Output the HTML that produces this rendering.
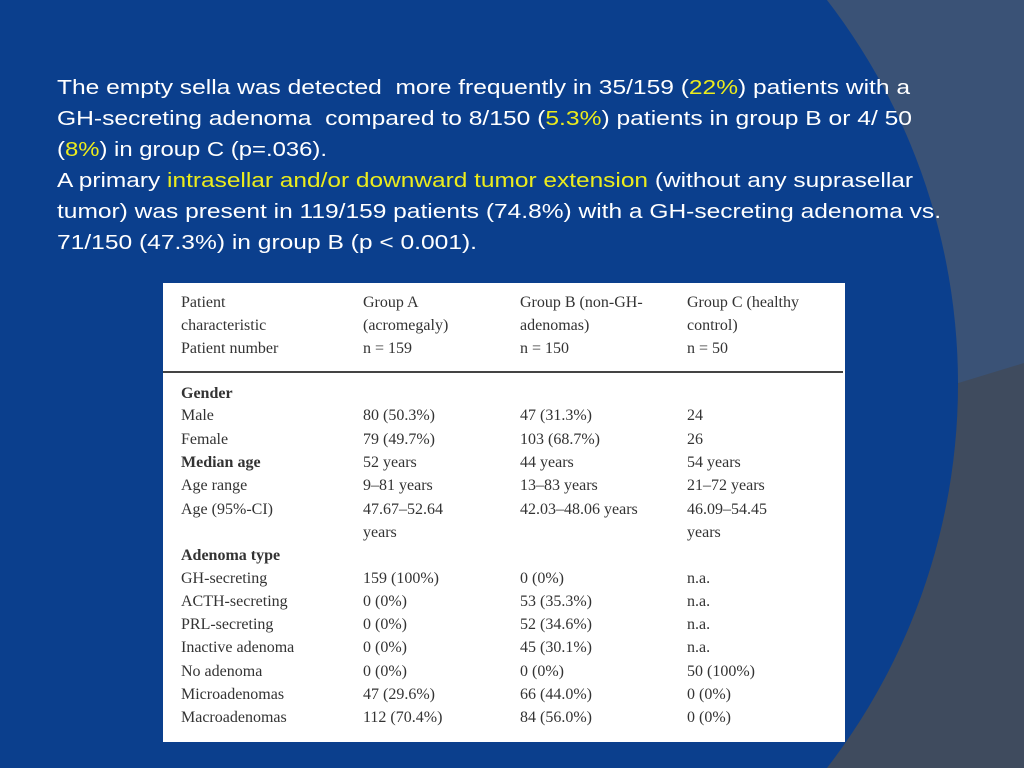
<!DOCTYPE html>
<html><head><meta charset="utf-8"><style>
body{margin:0;width:1024px;height:768px;overflow:hidden;position:relative;background:#3a5276;font-family:"Liberation Sans",sans-serif}
#bg{position:absolute;left:0;top:0;display:block}
.txt{position:absolute;left:57px;top:73px;color:#fff;font-size:20px;line-height:31px}
.ln{white-space:nowrap;transform-origin:0 0;width:max-content}
.y{color:#ecec1c}
.tbl{position:absolute;left:163px;top:283px;width:682px;height:459px;background:#fff;font-family:"Liberation Serif",serif;font-size:16px;color:#333;overflow:hidden}
.r{position:absolute;left:0;width:682px;height:22px;line-height:22px}
.r span{position:absolute;white-space:nowrap}
.c1{left:18px}.c2{left:200px}.c3{left:357px}.c4{left:524px}
.b{font-weight:bold}
.rule{position:absolute;left:0;top:88px;width:680px;height:2px;background:#444}
</style></head><body>
<svg id="bg" width="1024" height="768">
<polygon points="1024,363 847,417 700,768 1024,768" fill="#3f4b5e"/>
<circle cx="330" cy="384" r="628" fill="#0b3f8d"/>
</svg>
<div class="txt">
<div class="ln" data-w="853">The empty sella was detected &nbsp;more frequently in 35/159 (<span class="y">22%</span>) patients with a</div>
<div class="ln" data-w="855">GH-secreting adenoma &nbsp;compared to 8/150 (<span class="y">5.3%</span>) patients in group B or 4/ 50</div>
<div class="ln" data-w="270">(<span class="y">8%</span>) in group C (p=.036).</div>
<div class="ln" data-w="856">A primary <span class="y">intrasellar and/or downward tumor extension</span> (without any suprasellar</div>
<div class="ln" data-w="884">tumor) was present in 119/159 patients (74.8%) with a GH-secreting adenoma vs.</div>
<div class="ln" data-w="420">71/150 (47.3%) in group B (p &lt; 0.001).</div>
</div>
<div class="tbl">
<div class="r" style="top:9px"><span class="c1">Patient</span><span class="c2">Group A</span><span class="c3">Group B (non-GH-</span><span class="c4">Group C (healthy</span></div>
<div class="r" style="top:32px"><span class="c1">characteristic</span><span class="c2">(acromegaly)</span><span class="c3">adenomas)</span><span class="c4">control)</span></div>
<div class="r" style="top:55px"><span class="c1">Patient number</span><span class="c2">n = 159</span><span class="c3">n = 150</span><span class="c4">n = 50</span></div>
<div class="rule"></div>
<div class="r" style="top:100px"><span class="c1 b">Gender</span></div>
<div class="r" style="top:122px"><span class="c1">Male</span><span class="c2">80 (50.3%)</span><span class="c3">47 (31.3%)</span><span class="c4">24</span></div>
<div class="r" style="top:146px"><span class="c1">Female</span><span class="c2">79 (49.7%)</span><span class="c3">103 (68.7%)</span><span class="c4">26</span></div>
<div class="r" style="top:169px"><span class="c1 b">Median age</span><span class="c2">52 years</span><span class="c3">44 years</span><span class="c4">54 years</span></div>
<div class="r" style="top:192px"><span class="c1">Age range</span><span class="c2">9–81 years</span><span class="c3">13–83 years</span><span class="c4">21–72 years</span></div>
<div class="r" style="top:216px"><span class="c1">Age (95%-CI)</span><span class="c2">47.67–52.64</span><span class="c3">42.03–48.06 years</span><span class="c4">46.09–54.45</span></div>
<div class="r" style="top:239px"><span class="c2">years</span><span class="c4">years</span></div>
<div class="r" style="top:262px"><span class="c1 b">Adenoma type</span></div>
<div class="r" style="top:285px"><span class="c1">GH-secreting</span><span class="c2">159 (100%)</span><span class="c3">0 (0%)</span><span class="c4">n.a.</span></div>
<div class="r" style="top:308px"><span class="c1">ACTH-secreting</span><span class="c2">0 (0%)</span><span class="c3">53 (35.3%)</span><span class="c4">n.a.</span></div>
<div class="r" style="top:331px"><span class="c1">PRL-secreting</span><span class="c2">0 (0%)</span><span class="c3">52 (34.6%)</span><span class="c4">n.a.</span></div>
<div class="r" style="top:354px"><span class="c1">Inactive adenoma</span><span class="c2">0 (0%)</span><span class="c3">45 (30.1%)</span><span class="c4">n.a.</span></div>
<div class="r" style="top:378px"><span class="c1">No adenoma</span><span class="c2">0 (0%)</span><span class="c3">0 (0%)</span><span class="c4">50 (100%)</span></div>
<div class="r" style="top:401px"><span class="c1">Microadenomas</span><span class="c2">47 (29.6%)</span><span class="c3">66 (44.0%)</span><span class="c4">0 (0%)</span></div>
<div class="r" style="top:424px"><span class="c1">Macroadenomas</span><span class="c2">112 (70.4%)</span><span class="c3">84 (56.0%)</span><span class="c4">0 (0%)</span></div>
</div>
<script>
document.querySelectorAll('.ln').forEach(function(l){
  var w=l.getBoundingClientRect().width, t=+l.getAttribute('data-w');
  if(w>0) l.style.transform='scaleX('+(t/w)+')';
});
</script>
</body></html>
